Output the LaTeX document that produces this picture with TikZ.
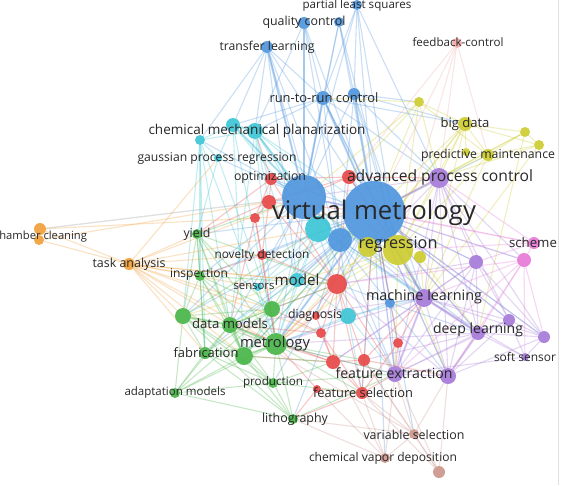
\documentclass[tikz,border=0pt]{standalone}
\usepackage{fontspec}
\setmainfont{Open Sans}
\usetikzlibrary{backgrounds}
\definecolor{cB}{RGB}{80,150,222}
\definecolor{cC}{RGB}{62,198,214}
\definecolor{cR}{RGB}{232,72,72}
\definecolor{cF}{RGB}{242,170,170}
\definecolor{cY}{RGB}{204,204,48}
\definecolor{cP}{RGB}{166,122,216}
\definecolor{cK}{RGB}{232,122,216}
\definecolor{cG}{RGB}{72,182,72}
\definecolor{cO}{RGB}{242,160,60}
\definecolor{cN}{RGB}{204,150,140}
\definecolor{txt}{RGB}{40,40,40}
\newlength\lw
\newcommand\fitt[2]{\settowidth\lw{\fontsize{10pt}{12pt}\selectfont #2}\pgfmathsetmacro\fsz{10*#1/\lw}\fontsize{\fsz pt}{\fsz pt}\selectfont #2}
\tikzset{
  nd/.style n args={2}{circle,inner sep=0pt,minimum size=#2,fill=#1,fill opacity=0.92,draw=none},
  lab/.style={inner sep=0pt,text=txt,anchor=center},
  eg/.style={line width=1.1pt,draw=#1,opacity=0.3},
  egw/.style={line width=2.2pt,draw=#1,opacity=0.3},
}
\begin{document}
\begin{tikzpicture}[x=1pt,y=-1pt]
\clip (0,0) rectangle (562,485);
% blue
\node[nd={cB}{62}] (vm) at (374,212) {};
\node[nd={cB}{44}] (vm2) at (304,197) {};
\node[nd={cB}{24}] (bl1) at (340,240) {};
\node[nd={cB}{10}] (pls) at (357,5) {};
\node[nd={cB}{12}] (qc) at (304,23) {};
\node[nd={cB}{10}] (bl2) at (339,22) {};
\node[nd={cB}{12}] (tl) at (267,47) {};
\node[nd={cB}{14}] (rr) at (323,98) {};
\node[nd={cB}{12}] (bl3) at (354,94) {};
\node[nd={cB}{10}] (bl4) at (390,303) {};
% cyan
\node[nd={cC}{14}] (cmp1) at (233,125) {};
\node[nd={cC}{16}] (cmp2) at (255,131) {};
\node[nd={cC}{10}] (cy1) at (200,140) {};
\node[nd={cC}{8}] (gpr) at (218,158) {};
\node[nd={cC}{26}] (cy2) at (318,229) {};
\node[nd={cC}{14}] (model) at (297,280) {};
\node[nd={cC}{8}] (sens) at (258,287) {};
\node[nd={cC}{16}] (cy3) at (348,316) {};
% red
\node[nd={cR}{14}] (rapc) at (349,177) {};
\node[nd={cR}{12}] (opt) at (271,179) {};
\node[nd={cR}{14}] (rd1) at (269,202) {};
\node[nd={cR}{10}] (rd2) at (255,218) {};
\node[nd={cR}{10}] (nov) at (262,255) {};
\node[nd={cR}{20}] (rd3) at (337,284) {};
\node[nd={cR}{8}] (diag) at (316,316) {};
\node[nd={cR}{10}] (rd4) at (321,333) {};
\node[nd={cR}{14}] (rd5) at (333,362) {};
\node[nd={cR}{12}] (rd6) at (364,360) {};
\node[nd={cR}{10}] (rd7) at (398,343) {};
\node[nd={cR}{12}] (fs) at (362,393) {};
\node[nd={cR}{8}] (rd8) at (317,389) {};
\node[nd={cF}{10}] (fb) at (457,43) {};
% yellow
\node[nd={cY}{30}] (reg) at (398,250) {};
\node[nd={cY}{20}] (ye1) at (368,247) {};
\node[nd={cY}{12}] (ye2) at (420,257) {};
\node[nd={cY}{14}] (bd) at (465,124) {};
\node[nd={cY}{10}] (ye3) at (419,102) {};
\node[nd={cY}{10}] (ye4) at (525,132) {};
\node[nd={cY}{10}] (ye5) at (539,145) {};
\node[nd={cY}{12}] (pm) at (488,155) {};
\node[nd={cY}{8}] (ye6) at (466,152) {};
% purple
\node[nd={cP}{20}] (apc) at (439,178) {};
\node[nd={cP}{14}] (pu1) at (476,262) {};
\node[nd={cP}{18}] (ml) at (424,298) {};
\node[nd={cP}{12}] (pu2) at (509,320) {};
\node[nd={cP}{14}] (dl) at (478,333) {};
\node[nd={cP}{12}] (pu3) at (544,337) {};
\node[nd={cP}{8}] (ss) at (525,357) {};
\node[nd={cP}{16}] (fe1) at (395,374) {};
\node[nd={cP}{16}] (fe2) at (448,376) {};
% pink
\node[nd={cK}{12}] (sch1) at (534,243) {};
\node[nd={cK}{14}] (sch2) at (524,260) {};
% green
\node[nd={cG}{10}] (yld) at (197,234) {};
\node[nd={cG}{10}] (insp) at (200,276) {};
\node[nd={cG}{16}] (gr1) at (183,316) {};
\node[nd={cG}{16}] (dm) at (230,325) {};
\node[nd={cG}{16}] (gr2) at (272,309) {};
\node[nd={cG}{22}] (met) at (276,344) {};
\node[nd={cG}{18}] (gr3) at (244,356) {};
\node[nd={cG}{12}] (fab) at (205,353) {};
\node[nd={cG}{10}] (prod) at (273,383) {};
\node[nd={cG}{10}] (adm) at (175,393) {};
\node[nd={cG}{10}] (lith) at (293,419) {};
% orange
\node[nd={cO}{12}] (cc1) at (40,229) {};
\node[nd={cO}{10}] (cc2) at (39,240) {};
\node[nd={cO}{12}] (ta) at (129,264) {};
% brown
\node[nd={cN}{10}] (vs) at (414,434) {};
\node[nd={cN}{10}] (cvd) at (385,458) {};
\node[nd={cN}{12}] (br1) at (439,472) {};

\begin{pgfonlayer}{background}
\fill[white] (0,0) rectangle (562,485);
\draw[line width=0.8pt,draw=black!12] (558,0) -- (558,485);
% blue edges
\foreach \a/\b in {pls/vm,pls/vm2,pls/rr,pls/bl3,pls/apc,pls/reg,qc/vm,qc/vm2,qc/rr,qc/bl1,qc/cmp2,bl2/vm,bl2/vm2,bl2/rr,bl2/bl3,bl2/reg,
 tl/cmp1,tl/cmp2,tl/cy1,tl/vm2,tl/vm,tl/rr,tl/bl1,tl/cy2,tl/model,
 rr/vm,rr/vm2,rr/bl1,rr/cmp2,rr/cmp1,rr/reg,rr/apc,rr/bd,rr/ml,bl3/vm,bl3/vm2,bl3/bl1,bl3/apc,bl3/reg,bl3/ml,bl3/bd,bl3/ye3,
 vm/vm2,vm/bl1,vm/rapc,vm/ml,vm/dl,vm/fe1,vm/fe2,vm/met,vm/dm,vm/gr1,vm/rd3,vm/cy2,vm/model,vm/opt,vm/pm,vm/sch2,vm/pu1,vm/fs,vm/vs,vm/yld,vm/insp,vm/lith,vm/prod,vm/fab,vm/nov,vm/pu3,vm/pu2,
 vm2/bl1,vm2/cy2,vm2/opt,vm2/rd1,vm2/cmp1,vm2/cmp2,vm2/cy1,vm2/gpr,vm2/met,vm2/dm,vm2/gr1,vm2/model,vm2/rd3,vm2/ml,vm2/insp,vm2/sens,vm2/fe1,
 bl1/ml,bl1/fe1,bl1/met,bl1/model,bl1/diag,bl1/cy3,bl4/ml,bl4/vm,bl4/fe1,bl4/dl,bl4/rd3,bl4/met,bl1/dl,vm2/fe2,vm2/dl,vm/gr3,vm/cvd}
 \draw[eg=cB] (\a) -- (\b);
\foreach \a/\b in {qc/vm2,tl/vm2,rr/vm,rr/vm2,bl3/vm,vm/vm2,vm/ml,vm2/cy2,vm/met}
 \draw[egw=cB] (\a) -- (\b);
\draw[line width=1.3pt,draw=black!30,opacity=0.4] (cc1) -- (vm2);
% cyan
\foreach \a/\b in {cmp1/cmp2,cmp1/cy1,cmp2/cy1,cmp2/vm,cmp2/cy2,cmp2/rd1,cmp1/gpr,cy1/gpr,cy1/met,cy1/dm,cy1/gr1,cmp1/met,cmp2/dm,cmp2/model,gpr/yld,
 cy2/reg,cy2/met,cy2/model,model/met,model/dm,model/cy3,cy3/fe1,cy3/ml,cy3/met,sens/met,sens/vm,cy2/ml,cy2/sens,cmp2/reg,cmp2/bl1,cmp1/cy2,cy1/insp,gpr/gr2,
 cmp1/gr3,cmp2/gr2,cy1/fab,cy3/fs,model/gr3}
 \draw[eg=cC] (\a) -- (\b);
\foreach \a/\b in {cmp1/cmp2,cmp2/vm2,cmp1/vm2}
 \draw[egw=cC] (\a) -- (\b);
% red
\foreach \a/\b in {rapc/vm,rapc/opt,rapc/rd1,rapc/vm2,rapc/rd3,rapc/reg,rapc/apc,opt/rd1,opt/rd2,opt/rd3,rd1/rd2,rd1/nov,rd1/rd3,rd1/vm,rd2/nov,rd2/met,
 nov/rd3,nov/met,rd3/diag,rd3/rd4,rd3/rd5,rd3/fs,rd3/rd6,rd4/rd5,rd5/fs,rd5/rd6,rd6/fs,rd7/fs,rd7/fe1,rd7/vm,rd6/vm,rd5/met,diag/met,rd8/fs,rd8/met,
 rd8/lith,fs/lith,fs/fe1,rd5/dm,rd3/met,rd3/gr2,rd4/gr2,rd6/ml,rd2/dm,nov/insp,rd1/yld,opt/cmp2,rd7/ml,rd4/fs,diag/rd5,rd3/fe1,rd6/fe2,rd5/gr3,rd4/dm,opt/yld}
 \draw[eg=cR] (\a) -- (\b);
\foreach \a/\b in {fb/apc,fb/vm,fb/rapc,fb/reg,fb/pm}
 \draw[eg=cF] (\a) -- (\b);
% yellow
\foreach \a/\b in {reg/ye1,reg/ye2,reg/vm,reg/bd,reg/pm,reg/ye3,reg/apc,reg/ml,reg/met,reg/rd3,ye1/vm2,ye1/bd,bd/ye3,bd/ye4,bd/ye5,bd/pm,bd/ye6,bd/apc,bd/vm,
 pm/ye4,pm/ye5,pm/ye6,pm/apc,ye3/vm,ye3/vm2,ye3/rr,ye3/pm,ye4/ye5,ye4/apc,ye5/apc,ye5/ml,ye4/vm,ye2/ml,ye2/dl,ye3/apc,bd/ml,ye1/met,reg/fe1,reg/dm,reg/gr1,ye3/rapc,
 bd/rd3,pm/ml,ye4/dl,reg/fe2}
 \draw[eg=cY] (\a) -- (\b);
% purple
\foreach \a/\b in {apc/vm,apc/ml,apc/pu1,apc/dl,apc/fe1,apc/fe2,apc/sch2,apc/pu2,apc/pu3,apc/vm2,pu1/ml,pu1/dl,pu1/pu2,pu1/pu3,pu1/vm,pu1/fe1,pu1/fe2,
 ml/dl,ml/pu2,ml/pu3,ml/fe1,ml/fe2,ml/vm,ml/met,ml/ss,dl/pu2,dl/pu3,dl/fe1,dl/fe2,dl/ss,dl/vm,pu2/pu3,pu2/fe2,pu2/ss,pu3/fe2,pu3/ss,fe1/fe2,fe1/vm,
 fe1/met,fe2/vm,ss/fe1,pu3/vm,pu1/rd5,dl/rd6,fe2/rd3,ml/rd5,pu2/vm,pu2/fe1,pu1/rd3,dl/met,apc/rd3,ml/dm}
 \draw[eg=cP] (\a) -- (\b);
\foreach \a/\b in {apc/vm,ml/dl,ml/fe1,dl/fe2}
 \draw[egw=cP] (\a) -- (\b);
\foreach \a/\b in {sch1/sch2,sch1/vm,sch2/vm,sch2/dl,sch2/fe1,sch1/apc,sch2/ml,sch2/fe2,sch1/reg,sch2/ss,sch1/pu1,sch1/vm2,sch2/rd3,sch2/pu3}
 \draw[eg=cK] (\a) -- (\b);
% green
\foreach \a/\b in {yld/insp,yld/gr1,yld/dm,yld/met,yld/gr2,yld/vm2,yld/fab,insp/gr1,insp/dm,insp/met,insp/gr2,insp/fab,gr1/dm,gr1/met,gr1/fab,gr1/gr3,gr1/adm,gr1/gr2,
 dm/met,dm/gr2,dm/gr3,dm/fab,dm/prod,gr2/met,gr2/gr3,gr2/vm,met/gr3,met/fab,met/prod,met/lith,met/fe1,gr3/fab,gr3/prod,gr3/adm,gr3/lith,fab/adm,fab/prod,
 fab/lith,adm/prod,adm/dm,adm/met,adm/lith,adm/gr2,prod/lith,prod/fs,lith/fe1,prod/fe1,met/fs,gr3/vm,gr1/cy2,yld/rd3,insp/rd3,dm/rd3,gr2/cy2,
 yld/gr3,insp/gr3,gr1/prod,fab/gr2,met/rd6,gr3/rd5,prod/rd5,gr1/lith}
 \draw[eg=cG] (\a) -- (\b);
\foreach \a/\b in {dm/met,gr3/met,gr1/dm,dm/gr3}
 \draw[egw=cG] (\a) -- (\b);
% orange
\foreach \a/\b in {cc1/cc2,cc1/ta,cc2/ta,cc1/vm,cc2/rd1,ta/yld,ta/insp,ta/gr1,ta/dm,ta/met,ta/gr2,ta/vm2,ta/rd3,ta/nov,ta/gr3,ta/fab,ta/gpr,ta/model,ta/cy2,ta/sens,ta/rd4}
 \draw[eg=cO] (\a) -- (\b);
% brown
\foreach \a/\b in {vs/cvd,vs/br1,vs/fe1,vs/fe2,vs/fs,vs/rd6,vs/lith,cvd/fs,cvd/fe1,cvd/rd5,cvd/lith,br1/fe1,br1/fe2,br1/fs,vs/dm,cvd/rd8,br1/rd6}
 \draw[eg=cN] (\a) -- (\b);
\end{pgfonlayer}

% labels
\node[lab] (t1) at (357,5) {\fitt{109}{partial least squares}};
\node[lab] (t2) at (304,22) {\fitt{83}{quality control}};
\node[lab] (t3) at (267,47) {\fitt{95}{transfer learning}};
\node[lab] (t4) at (458,42) {\fitt{91}{feedback-control}};
\node[lab] (t5) at (324,98) {\fitt{109}{run-to-run control}};
\node[lab] (t6) at (465,124) {\fitt{49}{big data}};
\node[lab] (t7) at (257,131) {\fitt{217}{chemical mechanical planarization}};
\node[lab] (t8) at (217,158) {\fitt{159}{gaussian process regression}};
\node[lab] (t9) at (488,155) {\fitt{134}{predictive maintenance}};
\node[lab] (t10) at (270,177) {\fitt{72}{optimization}};
\node[lab] (t11) at (440,177) {\fitt{186}{advanced process control}};
\node[lab] (t12) at (374,213) {\fitt{204}{virtual metrology}};
\node[lab] (t13) at (398,244) {\fitt{79}{regression}};
\node[lab] (t14) at (533,243) {\fitt{48}{scheme}};
\node[lab] (t15) at (40.5,237) {\fitt{93}{chamber cleaning}};
\node[lab] (t16) at (197,234) {\fitt{27}{yield}};
\node[lab] (t17) at (129,264) {\fitt{73}{task analysis}};
\node[lab] (t18) at (262,255) {\fitt{95}{novelty detection}};
\node[lab] (t19) at (199,275) {\fitt{58}{inspection}};
\node[lab] (t20) at (254,286) {\fitt{41}{sensors}};
\node[lab] (t21) at (297,280) {\fitt{45}{model}};
\node[lab] (t22) at (424,297) {\fitt{116}{machine learning}};
\node[lab] (t23) at (315,315) {\fitt{54}{diagnosis}};
\node[lab] (t24) at (230,324) {\fitt{76}{data models}};
\node[lab] (t25) at (478,330) {\fitt{90}{deep learning}};
\node[lab] (t26) at (275,344) {\fitt{70}{metrology}};
\node[lab] (t27) at (206,353) {\fitt{65}{fabrication}};
\node[lab] (t28) at (525,357) {\fitt{62}{soft sensor}};
\node[lab] (t29) at (394,373) {\fitt{117}{feature extraction}};
\node[lab] (t30) at (273,382) {\fitt{60}{production}};
\node[lab] (t31) at (175,393) {\fitt{101}{adaptation models}};
\node[lab] (t32) at (363,393) {\fitt{100}{feature selection}};
\node[lab] (t33) at (295,419) {\fitt{66}{lithography}};
\node[lab] (t34) at (414,435) {\fitt{101}{variable selection}};
\node[lab] (t35) at (383,458) {\fitt{148}{chemical vapor deposition}};
\end{tikzpicture}
\end{document}
